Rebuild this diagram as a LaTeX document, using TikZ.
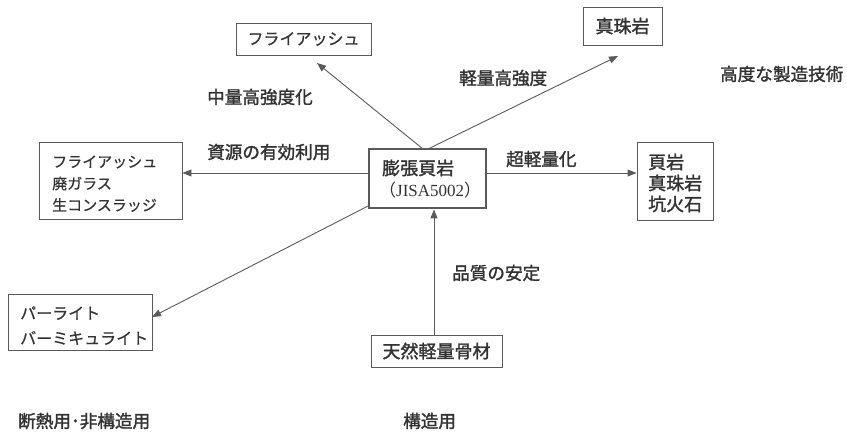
\documentclass[tikz,border=0pt]{standalone}
\usepackage{fontspec}
\setmainfont{Noto Sans CJK JP}
\newfontfamily\labf[FakeBold=1.6]{Noto Sans CJK JP}
\newfontfamily\medf[FakeBold=0.6]{Noto Sans CJK JP}
\newfontfamily\latf{Liberation Serif}
\usetikzlibrary{arrows.meta}
\definecolor{ink}{HTML}{333333}
\definecolor{ln}{HTML}{5A5A5A}
\tikzset{
  box/.style={draw=ln, line width=0.9pt, inner sep=0pt, text=ink},
  lab/.style={text=ink, font=\labf\fontsize{17.6}{17.6}\selectfont, inner sep=0pt},
  arr/.style={draw=ln, line width=0.9pt, -{Triangle[length=9pt,width=7pt]}},
  txt/.style={text=ink, inner sep=0pt, anchor=west}
}
\begin{document}
\begin{tikzpicture}[x=1pt,y=-1pt]
\useasboundingbox (0,0) rectangle (847,434);
% boxes
\node[box, minimum width=135pt, minimum height=32pt] (fa) at (303.5,39) {};
\node[txt, anchor=center, font=\medf\fontsize{16}{16}\selectfont] at (fa.center) {フライアッシュ};
\node[box, minimum width=79pt, minimum height=38pt] (pe) at (622.5,26) {};
\node[txt, anchor=center, font=\labf\fontsize{18}{18}\selectfont] at (pe.center) {真珠岩};
\node[box, minimum width=143pt, minimum height=77pt] (lb) at (110.5,180.5) {};
\node[txt, font=\medf\fontsize{15}{15}\selectfont] at (52,162) {フライアッシュ};
\node[txt, font=\medf\fontsize{15}{15}\selectfont] at (52,183.5) {廃ガラス};
\node[txt, font=\medf\fontsize{15}{15}\selectfont] at (52,205) {生コンスラッジ};
\node[box, line width=2.8pt, minimum width=117pt, minimum height=59pt] (c) at (427.5,178.5) {};
\node[txt, font=\labf\fontsize{18}{18}\selectfont] at (382,168) {膨張頁岩};
\node[txt, font=\fontsize{17}{17}\selectfont] at (379,190) {（\latf JISA5002\rmfamily）};
\node[box, minimum width=76pt, minimum height=78pt] (rb) at (675,181) {};
\node[txt, font=\labf\fontsize{18}{18}\selectfont] at (648,162) {頁岩};
\node[txt, font=\labf\fontsize{18}{18}\selectfont] at (648,183) {真珠岩};
\node[txt, font=\labf\fontsize{18}{18}\selectfont] at (648,204) {坑火石};
\node[box, minimum width=144pt, minimum height=56pt] (pl) at (80,322) {};
\node[txt, font=\medf\fontsize{16}{16}\selectfont] at (20,313) {パーライト};
\node[txt, font=\medf\fontsize{16}{16}\selectfont] at (20,338) {バーミキュライト};
\node[box, minimum width=131pt, minimum height=32pt] (nat) at (436.5,351) {};
\node[txt, anchor=center, font=\labf\fontsize{18}{18}\selectfont] at (nat.center) {天然軽量骨材};
% labels
\node[lab, anchor=west] (l1) at (207,97) {中量高強度化};
\node[lab, anchor=west] (l2) at (459,78) {軽量高強度};
\node[lab, anchor=west] (l3) at (720,74) {高度な製造技術};
\node[lab, anchor=west] (l4) at (207,152) {資源の有効利用};
\node[lab, anchor=west] (l5) at (506,159) {超軽量化};
\node[lab, anchor=west] (l6) at (452,273) {品質の安定};
\node[lab, anchor=west] (l7) at (18,421) {断熱用･非構造用};
\node[lab, anchor=west] (l8) at (403,421) {構造用};
% connector endpoints
\coordinate (c1) at (423,149);
\coordinate (c2) at (428,149);
\coordinate (t1) at (317,63);
\coordinate (t2) at (618,56);
\coordinate (c3) at (370,205);
\coordinate (t3) at (152,317);
\draw[arr] (c1) -- (t1);
\draw[arr] (c2) -- (t2);
\draw[arr] (c.west |- 0,173) -- (lb.east |- 0,173);
\draw[arr] (c.east |- 0,173) -- (rb.west |- 0,173);
\draw[arr] (c3) -- (t3);
\draw[arr] (nat.north -| 434,0) -- (c.south -| 434,0);
\end{tikzpicture}
\end{document}
